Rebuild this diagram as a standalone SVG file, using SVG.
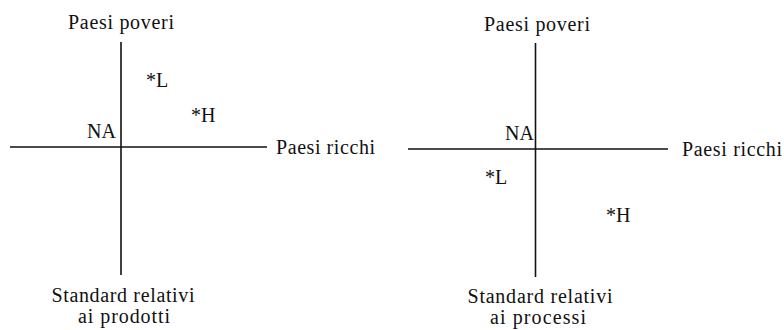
<svg xmlns="http://www.w3.org/2000/svg" width="784" height="330" viewBox="0 0 784 330">
<style>
text{font-family:"Liberation Serif","DejaVu Serif",serif;font-size:20px;fill:#111}
.m{text-anchor:middle}
.e{text-anchor:end}
line{stroke:#111;stroke-width:1.6}
</style>
<rect width="784" height="330" fill="#fff"/>
<g id="connectors">
<line x1="121" y1="42" x2="121" y2="275"/>
<line x1="10" y1="147" x2="267" y2="147"/>
<line x1="535.5" y1="43" x2="535.5" y2="277"/>
<line x1="408" y1="149" x2="668" y2="149"/>
</g>
<g id="left-top"><text class="m" x="121" y="29" textLength="106">Paesi poveri</text></g>
<g id="left-right"><text x="276" y="154" textLength="99">Paesi ricchi</text></g>
<g id="left-na"><text class="e" x="116" y="138">NA</text></g>
<g id="left-L"><text x="146" y="87">*L</text></g>
<g id="left-H"><text x="191" y="122">*H</text></g>
<g id="left-bottom"><text class="m" x="123" y="302" textLength="143">Standard relativi</text><text class="m" x="124" y="323" textLength="92">ai prodotti</text></g>
<g id="right-top"><text class="m" x="537" y="31" textLength="106">Paesi poveri</text></g>
<g id="right-right"><text x="682" y="156" textLength="100">Paesi ricchi</text></g>
<g id="right-na"><text class="e" x="534" y="140">NA</text></g>
<g id="right-L"><text x="485" y="184">*L</text></g>
<g id="right-H"><text x="606" y="222">*H</text></g>
<g id="right-bottom"><text class="m" x="540" y="303" textLength="145">Standard relativi</text><text class="m" x="538" y="324" textLength="96">ai processi</text></g>
</svg>
